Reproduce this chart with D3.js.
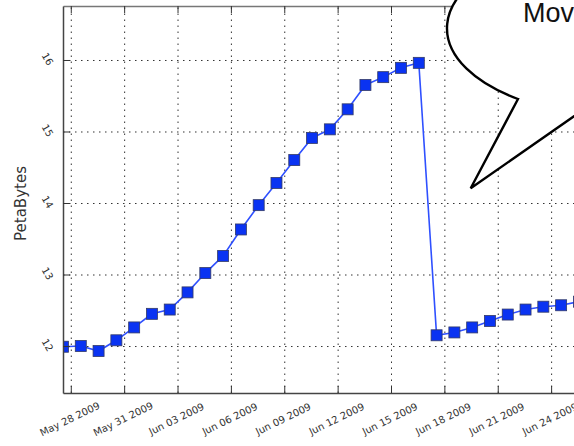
<!DOCTYPE html>
<html>
<head>
<meta charset="utf-8">
<script src="https://cdn.jsdelivr.net/npm/d3@7"></script>
<style>
  html, body { margin: 0; padding: 0; background: #fff; overflow: hidden; }
  svg { display: block; }
</style>
</head>
<body>
<svg id="chart" width="574" height="446"></svg>
<script>
// Daily storage usage readings (PetaBytes), one sample per day from 27 May 2009.
const sampleStart = "2009-05-27T13:30:00Z";
const petaBytes = [
  11.99, 12.00, 11.93, 12.08, 12.26, 12.45, 12.51, 12.75, 13.02, 13.26,
  13.63, 13.97, 14.28, 14.60, 14.91, 15.03, 15.31, 15.65, 15.76, 15.89,
  15.96, 12.15, 12.19, 12.26, 12.35, 12.44, 12.51, 12.55, 12.57, 12.62
];
const xTickDates = [
  "2009-05-28", "2009-05-31", "2009-06-03", "2009-06-06", "2009-06-09",
  "2009-06-12", "2009-06-15", "2009-06-18", "2009-06-21", "2009-06-24"
];
const yTickValues = [12, 13, 14, 15, 16];
const yLimits = [11.343, 16.755];
const axisLabel = "PetaBytes";
const calloutText = "Moved to tape";

(function draw() {
  const DAY = 864e5;
  const t0 = new Date(sampleStart);
  const points = petaBytes.map((v, i) => ({ date: new Date(t0.getTime() + i * DAY), value: v }));

  const svg = d3.select("#chart");
  const pLeft = 63, pTop = 6, pBottom = 393;
  const pxPerDay = 17.79;
  const spanDays = 34;
  const pRight = pLeft + spanDays * pxPerDay;

  const x = d3.scaleUtc()
    .domain([t0, new Date(t0.getTime() + spanDays * DAY)])
    .range([pLeft, pRight]);
  const y = d3.scaleLinear().domain(yLimits).range([pBottom, pTop]);

  const xTicks = xTickDates.map(s => new Date(s + "T00:00:00Z"));
  const fmt = d3.utcFormat("%b %d %Y");

  svg.append("defs").append("clipPath").attr("id", "plotclip")
    .append("rect").attr("x", pLeft).attr("y", pTop)
    .attr("width", pRight - pLeft).attr("height", pBottom - pTop);

  // dotted grid
  const grid = svg.append("g").attr("class", "grid");
  grid.append("g")
    .attr("transform", `translate(0,${pBottom})`)
    .call(d3.axisBottom(x).tickValues(xTicks).tickSize(-(pBottom - pTop)).tickFormat(""))
    .call(g => g.select(".domain").remove());
  grid.append("g")
    .attr("transform", `translate(${pLeft},0)`)
    .call(d3.axisLeft(y).tickValues(yTickValues).tickSize(-(pRight - pLeft)).tickFormat(""))
    .call(g => g.select(".domain").remove());
  grid.selectAll("line")
    .attr("stroke", "#333").attr("stroke-width", 1)
    .attr("stroke-dasharray", "1.5,4.5");

  // series
  const plot = svg.append("g").attr("clip-path", "url(#plotclip)");
  plot.append("path")
    .datum(points)
    .attr("fill", "none")
    .attr("stroke", "#2f50ff")
    .attr("stroke-width", 1.6)
    .attr("d", d3.line().x(d => x(d.date)).y(d => y(d.value)));
  const ms = 11;
  plot.selectAll("rect.pt")
    .data(points)
    .join("rect")
    .attr("class", "pt")
    .attr("x", d => x(d.date) - ms / 2)
    .attr("y", d => y(d.value) - ms / 2)
    .attr("width", ms).attr("height", ms)
    .attr("fill", "#0a33f2")
    .attr("stroke", "#333a66")
    .attr("stroke-width", 0.8);

  // axes with inward ticks
  const axisColor = "#444";
  const xAxis = svg.append("g")
    .attr("transform", `translate(0,${pBottom})`)
    .call(d3.axisBottom(x).tickValues(xTicks).tickSizeInner(-7).tickSizeOuter(0).tickFormat(fmt));
  xAxis.selectAll("text")
    .attr("x", 0).attr("y", 0).attr("dy", "0.35em")
    .attr("text-anchor", "middle")
    .attr("transform", "translate(-1.5,26) rotate(-26)");

  const xAxisTop = svg.append("g")
    .attr("transform", `translate(0,${pTop})`)
    .call(d3.axisTop(x).tickValues(xTicks).tickSizeInner(-7).tickSizeOuter(0).tickFormat(""));

  const yAxis = svg.append("g")
    .attr("transform", `translate(${pLeft},0)`)
    .call(d3.axisLeft(y).tickValues(yTickValues).tickSizeInner(-7).tickSizeOuter(0).tickFormat(d3.format("d")));
  yAxis.selectAll("text")
    .attr("x", 0).attr("y", 0).attr("dy", "0.35em")
    .attr("text-anchor", "middle")
    .attr("transform", "translate(-15.5,-1.5) rotate(60)");

  svg.selectAll(".domain").attr("stroke", axisColor).attr("stroke-width", 1.5);
  xAxisTop.select(".domain").attr("stroke", "#777").attr("stroke-width", 1.5);
  svg.selectAll(".tick line").filter(function () { return !this.closest(".grid"); })
    .attr("stroke", "#333").attr("stroke-width", 1);
  svg.selectAll(".tick text")
    .attr("fill", "#333")
    .style("font-family", "'DejaVu Sans', sans-serif")
    .style("font-size", "10px");

  svg.append("text")
    .attr("transform", `translate(26,${(pTop + pBottom) / 2 + 4}) rotate(-90)`)
    .attr("text-anchor", "middle")
    .attr("fill", "#333")
    .style("font-family", "'DejaVu Sans', sans-serif")
    .style("font-size", "15px")
    .text(axisLabel);

  // speech-bubble callout
  const bub = { rx: 175, ry: 88 };
  const tailA = [518, 99], tailTip = [470.7, 188.3], tailB = [578, 113.4];
  svg.append("path")
    .attr("d", `M${tailA[0]},${tailA[1]} L${tailTip[0]},${tailTip[1]} L${tailB[0]},${tailB[1]} ` +
               `A${bub.rx},${bub.ry} 0 1 0 ${tailA[0]},${tailA[1]} Z`)
    .attr("fill", "#fff")
    .attr("stroke", "#000")
    .attr("stroke-width", 2.4)
    .attr("stroke-linejoin", "miter");
  svg.append("text")
    .attr("x", 523).attr("y", 22)
    .attr("fill", "#111")
    .style("font-family", "'Liberation Sans', Arial, sans-serif")
    .style("font-size", "27px")
    .text(calloutText);
})();
</script>
</body>
</html>
